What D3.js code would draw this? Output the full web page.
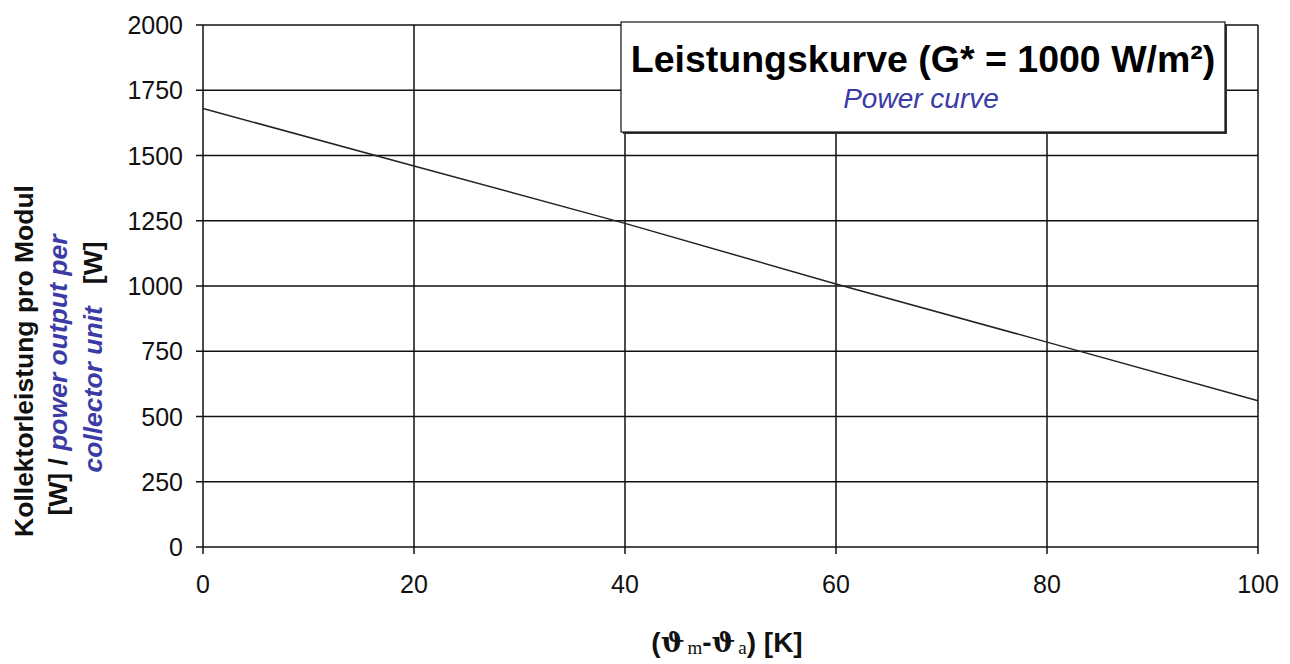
<!DOCTYPE html>
<html>
<head>
<meta charset="utf-8">
<script src="https://cdn.jsdelivr.net/npm/d3@7"></script>
<style>
  body { margin: 0; background: #fff; }
  text { font-family: "Liberation Sans", Arial, sans-serif; }
</style>
</head>
<body>
<div id="chart"></div>
<script>
// data
var tempDiff = [0, 20, 40, 60, 80, 100];
var power = [1680, 1460, 1240, 1008, 785, 560];
var xTicks = [0, 20, 40, 60, 80, 100];
var yTicks = [0, 250, 500, 750, 1000, 1250, 1500, 1750, 2000];

var W = 1290, H = 664;
var margin = {top: 25, right: 32, bottom: 117, left: 203},
    width = W - margin.left - margin.right,
    height = H - margin.top - margin.bottom;

var svg = d3.select("#chart").append("svg")
    .attr("width", W)
    .attr("height", H);

var g = svg.append("g")
    .attr("transform", "translate(" + margin.left + "," + margin.top + ")");

var x = d3.scaleLinear().domain([0, 100]).range([0, width]);
var y = d3.scaleLinear().domain([0, 2000]).range([height, 0]);

// horizontal grid
g.selectAll(".hgrid")
    .data(yTicks)
  .enter().append("line")
    .attr("x1", -7).attr("x2", width)
    .attr("y1", function(d) { return y(d); })
    .attr("y2", function(d) { return y(d); })
    .attr("stroke", "#111").attr("stroke-width", 1.5);

// vertical grid
g.selectAll(".vgrid")
    .data(xTicks)
  .enter().append("line")
    .attr("x1", function(d) { return x(d); })
    .attr("x2", function(d) { return x(d); })
    .attr("y1", 0).attr("y2", height + 7)
    .attr("stroke", "#111").attr("stroke-width", 1.5);

// y tick labels
g.selectAll(".ylab")
    .data(yTicks)
  .enter().append("text")
    .attr("x", -20)
    .attr("y", function(d) { return y(d); })
    .attr("dy", "0.36em")
    .attr("text-anchor", "end")
    .attr("font-size", 25)
    .attr("fill", "#111")
    .text(function(d) { return d; });

// x tick labels
g.selectAll(".xlab")
    .data(xTicks)
  .enter().append("text")
    .attr("x", function(d) { return x(d); })
    .attr("y", height + 46)
    .attr("text-anchor", "middle")
    .attr("font-size", 25)
    .attr("fill", "#111")
    .text(function(d) { return d; });

// power curve
var line = d3.line()
    .x(function(d, i) { return x(tempDiff[i]); })
    .y(function(d) { return y(d); });

g.append("path")
    .datum(power)
    .attr("d", line)
    .attr("fill", "none")
    .attr("stroke", "#222")
    .attr("stroke-width", 1.5);

// title box
var bx = 621, by = 22, bw = 604, bh = 110;
svg.append("rect")
    .attr("x", bx + 2).attr("y", by + 2)
    .attr("width", bw).attr("height", bh)
    .attr("fill", "#333");
svg.append("rect")
    .attr("x", bx).attr("y", by)
    .attr("width", bw).attr("height", bh)
    .attr("fill", "#fff")
    .attr("stroke", "#111").attr("stroke-width", 1.2);

svg.append("text")
    .attr("x", 923).attr("y", 72)
    .attr("text-anchor", "middle")
    .attr("font-size", 37.5).attr("font-weight", "bold")
    .attr("fill", "#000")
    .text("Leistungskurve (G* = 1000 W/m²)");

svg.append("text")
    .attr("x", 921).attr("y", 108)
    .attr("text-anchor", "middle")
    .attr("font-size", 28).attr("font-style", "italic")
    .attr("fill", "#3b3ba6")
    .text("Power curve");

// y axis title (three rotated lines)
var blue = "#3b3ba6";
var yt = svg.append("g").attr("font-size", 26.5).attr("font-weight", "bold");

yt.append("text")
    .attr("transform", "translate(33,361) rotate(-90)")
    .attr("text-anchor", "middle")
    .attr("fill", "#111")
    .text("Kollektorleistung pro Modul");

var l2 = yt.append("text")
    .attr("transform", "translate(67,375) rotate(-90)")
    .attr("text-anchor", "middle");
l2.append("tspan").attr("fill", "#111").text("[W] / ");
l2.append("tspan").attr("fill", blue).attr("font-style", "italic").text("power output per");

var l3 = yt.append("text")
    .attr("transform", "translate(102,357) rotate(-90)")
    .attr("text-anchor", "middle");
l3.append("tspan").attr("fill", blue).attr("font-style", "italic").text("collector unit");
l3.append("tspan").attr("fill", "#111").attr("dx", 22).text("[W]");

// x axis title
var xt = svg.append("text")
    .attr("x", 727).attr("y", 652)
    .attr("text-anchor", "middle")
    .attr("font-size", 28).attr("font-weight", "bold")
    .attr("fill", "#111");
xt.append("tspan").text("(");
xt.append("tspan").attr("font-family", "DejaVu Serif").text("ϑ");
xt.append("tspan").attr("font-family", "Liberation Serif").attr("font-weight", "normal")
    .attr("font-size", 19).attr("dy", 2).attr("dx", 3).text("m");
xt.append("tspan").attr("dy", -2).text("-");
xt.append("tspan").attr("font-family", "DejaVu Serif").text("ϑ");
xt.append("tspan").attr("font-family", "Liberation Serif").attr("font-weight", "normal")
    .attr("font-size", 19).attr("dy", 2).attr("dx", 3).text("a");
xt.append("tspan").attr("dy", -2).text(") [K]");
</script>
</body>
</html>
